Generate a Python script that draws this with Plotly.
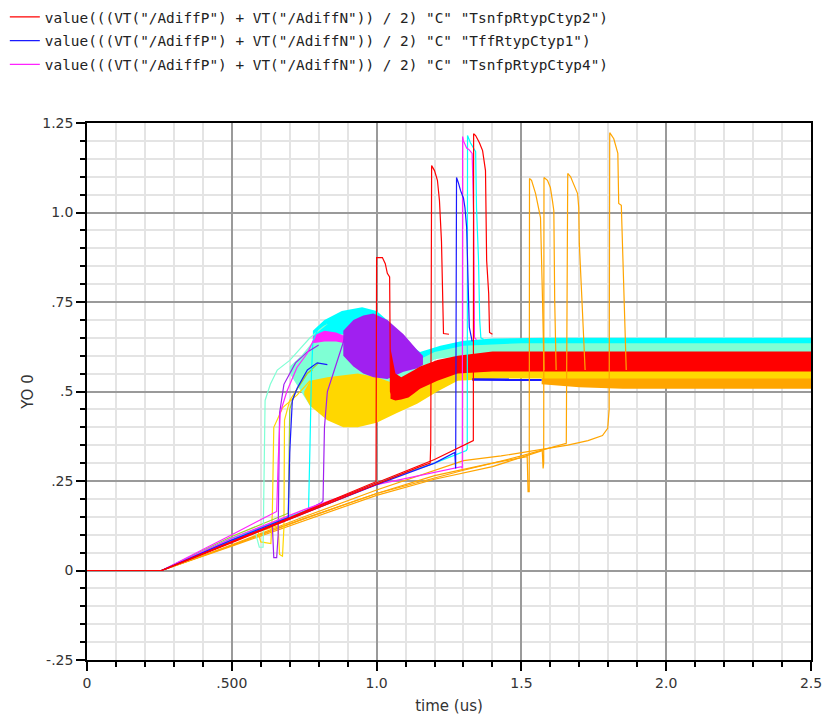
import plotly.graph_objects as go

# ---------------- legend / series names ----------------
name_red = 'value(((VT("/AdiffP") + VT("/AdiffN")) / 2) "C" "TsnfpRtypCtyp2")'
name_blue = 'value(((VT("/AdiffP") + VT("/AdiffN")) / 2) "C" "TffRtypCtyp1")'
name_magenta = 'value(((VT("/AdiffP") + VT("/AdiffN")) / 2) "C" "TsnfpRtypCtyp4")'

# ---------------- axis ticks ----------------
x_tick_vals = [0, 0.5, 1.0, 1.5, 2.0, 2.5]
x_tick_text = ["0", ".500", "1.0", "1.5", "2.0", "2.5"]
y_tick_vals = [-0.25, 0, 0.25, 0.5, 0.75, 1.0, 1.25]
y_tick_text = ["-.25", "0", ".25", ".5", ".75", "1.0", "1.25"]

# ---------------- individual waveforms (time in us, value in V) ----------------
red_1_t = [0, 0.258, 0.5, 0.75, 0.998, 1.0, 1.02, 1.03, 1.037, 1.045, 1.048, 1.06]
red_1_v = [0, 0, 0.08, 0.165, 0.248, 0.874, 0.874, 0.857, 0.83, 0.82, 0.50, 0.478]
red_2_t = [0, 0.258, 0.5, 0.75, 1.0, 1.15, 1.185, 1.187, 1.19, 1.20, 1.21, 1.217, 1.224, 1.228, 1.231, 1.25]
red_2_v = [0, 0, 0.078, 0.16, 0.243, 0.29, 0.30, 0.355, 1.131, 1.117, 1.09, 1.034, 0.92, 0.69, 0.662, 0.66]
red_3_t = [0, 0.258, 0.5, 0.75, 1.0, 1.2, 1.33, 1.334, 1.335, 1.342, 1.355, 1.366, 1.376, 1.38, 1.387, 1.39, 1.40]
red_3_v = [0, 0, 0.08, 0.163, 0.245, 0.31, 0.36, 0.363, 1.22, 1.215, 1.195, 1.173, 1.117, 0.866, 0.774, 0.665, 0.66]

blue_1_t = [0, 0.258, 0.5, 0.695, 0.70, 0.709, 0.726, 0.761, 0.795, 0.83]
blue_1_v = [0, 0, 0.085, 0.148, 0.33, 0.475, 0.51, 0.56, 0.58, 0.575]
blue_2_t = [0, 0.258, 0.5, 0.75, 1.0, 1.2, 1.27, 1.273, 1.276, 1.282, 1.29, 1.30, 1.305, 1.311, 1.316, 1.32, 1.33]
blue_2_v = [0, 0, 0.08, 0.16, 0.24, 0.30, 0.33, 0.285, 1.098, 1.084, 1.061, 1.04, 1.014, 0.958, 0.80, 0.68, 0.64]

magenta_1_t = [0, 0.258, 0.5, 0.655, 0.66, 0.667, 0.69, 0.725, 0.76, 0.78, 0.82, 0.88]
magenta_1_v = [0, 0, 0.1, 0.165, 0.30, 0.44, 0.50, 0.567, 0.606, 0.64, 0.66, 0.65]
magenta_2_t = [0, 0.258, 0.5, 0.75, 1.0, 1.2, 1.293, 1.296, 1.297, 1.30, 1.311, 1.32, 1.33, 1.335, 1.338, 1.345]
magenta_2_v = [0, 0, 0.09, 0.17, 0.24, 0.275, 0.29, 0.285, 1.212, 1.20, 1.18, 1.175, 1.165, 0.997, 0.65, 0.645]

cyan_1_t = [0, 0.258, 0.5, 0.765, 0.77, 0.775, 0.78, 0.80, 0.83, 0.87]
cyan_1_v = [0, 0, 0.09, 0.17, 0.35, 0.55, 0.64, 0.68, 0.69, 0.70]
cyan_2_t = [0, 0.258, 0.5, 0.75, 1.0, 1.2, 1.31, 1.313, 1.314, 1.324, 1.335, 1.342, 1.345, 1.352, 1.356, 1.36, 1.37]
cyan_2_v = [0, 0, 0.085, 0.165, 0.245, 0.30, 0.335, 0.34, 1.215, 1.195, 1.18, 1.17, 1.014, 0.866, 0.70, 0.65, 0.645]

aqua_1_t = [0, 0.258, 0.5, 0.58, 0.595, 0.608, 0.612, 0.615, 0.633, 0.657, 0.70, 0.77, 0.83]
aqua_1_v = [0, 0, 0.09, 0.11, 0.065, 0.065, 0.30, 0.475, 0.52, 0.56, 0.587, 0.65, 0.69]

purple_1_t = [0, 0.258, 0.5, 0.64, 0.645, 0.655, 0.66, 0.665, 0.68, 0.72, 0.76, 0.80]
purple_1_v = [0, 0, 0.085, 0.125, 0.036, 0.036, 0.10, 0.44, 0.52, 0.58, 0.61, 0.63]
purple_2_t = [0, 0.258, 0.5, 0.75, 0.81, 0.815, 0.82, 0.83, 0.87, 0.89]
purple_2_v = [0, 0, 0.08, 0.165, 0.19, 0.195, 0.40, 0.50, 0.60, 0.65]

gold_1_t = [0, 0.258, 0.5, 0.66, 0.665, 0.675, 0.68, 0.682, 0.70, 0.76, 0.78]
gold_1_v = [0, 0, 0.085, 0.125, 0.045, 0.04, 0.12, 0.42, 0.475, 0.55, 0.56]
gold_2_t = [0, 0.258, 0.5, 0.59, 0.60, 0.635, 0.64, 0.645, 0.676, 0.725, 0.77]
gold_2_v = [0, 0, 0.085, 0.11, 0.08, 0.075, 0.16, 0.40, 0.455, 0.49, 0.53]

green_1_t = [0, 0.258, 0.5, 0.695, 0.70, 0.72, 0.76, 0.80]
green_1_v = [0, 0, 0.095, 0.16, 0.45, 0.50, 0.55, 0.58]

orange_1_t = [0, 0.258, 0.5, 0.75, 1.0, 1.2, 1.4, 1.52, 1.523, 1.527, 1.528, 1.535, 1.549, 1.56, 1.566, 1.573, 1.578]
orange_1_v = [0, 0, 0.07, 0.145, 0.215, 0.265, 0.30, 0.318, 0.22, 0.22, 1.095, 1.09, 1.053, 1.014, 0.986, 0.754, 0.56]
orange_2_t = [0, 0.258, 0.5, 0.75, 1.0, 1.2, 1.4, 1.572, 1.575, 1.577, 1.578, 1.59, 1.60, 1.607, 1.612, 1.615, 1.62]
orange_2_v = [0, 0, 0.068, 0.14, 0.21, 0.255, 0.29, 0.335, 0.285, 0.30, 1.098, 1.09, 1.07, 1.034, 1.005, 0.754, 0.56]
orange_3_t = [0, 0.258, 0.5, 0.75, 1.0, 1.3, 1.5, 1.655, 1.66, 1.67, 1.68, 1.694, 1.698, 1.70, 1.708, 1.715, 1.72]
orange_3_v = [0, 0, 0.07, 0.145, 0.215, 0.28, 0.32, 0.355, 1.109, 1.10, 1.08, 1.053, 1.014, 0.913, 0.774, 0.66, 0.56]
orange_4_t = [0, 0.258, 0.5, 0.75, 1.0, 1.3, 1.43, 1.54, 1.66, 1.73, 1.78, 1.798, 1.803, 1.805, 1.819,
              1.833, 1.836, 1.845, 1.85, 1.857, 1.862]
orange_4_v = [0, 0, 0.072, 0.15, 0.225, 0.307, 0.32, 0.335, 0.35, 0.363, 0.377, 0.397, 0.45, 1.223, 1.206,
              1.165, 1.025, 1.02, 0.866, 0.70, 0.56]

# ---------------- ringing envelopes (upper / lower bound of the dense oscillation) ----------------
cyan_band_t = [0.78, 0.82, 0.88, 0.95, 1.0, 1.05, 1.10, 1.15, 1.22, 1.30, 1.40, 1.60, 2.50]
cyan_band_hi = [0.67, 0.70, 0.725, 0.735, 0.725, 0.69, 0.64, 0.61, 0.628, 0.642, 0.648, 0.65, 0.65]
cyan_band_lo = [0.55, 0.60, 0.62, 0.62, 0.60, 0.58, 0.57, 0.57, 0.60, 0.615, 0.62, 0.62, 0.62]

aqua_band_t = [0.70, 0.74, 0.77, 0.80, 0.85, 0.90, 0.95, 1.00, 1.05, 1.10, 1.15, 1.20, 1.30, 1.50, 2.50]
aqua_band_hi = [0.57, 0.60, 0.63, 0.65, 0.66, 0.66, 0.65, 0.64, 0.62, 0.585, 0.59, 0.61, 0.628, 0.635, 0.635]
aqua_band_lo = [0.55, 0.50, 0.46, 0.45, 0.46, 0.47, 0.48, 0.49, 0.50, 0.53, 0.56, 0.59, 0.60, 0.605, 0.605]

magenta_band_t = [0.78, 0.82, 0.86, 0.89]
magenta_band_hi = [0.655, 0.67, 0.665, 0.655]
magenta_band_lo = [0.635, 0.64, 0.64, 0.635]

orange_band_t = [1.57, 1.70, 1.85, 2.50]
orange_band_hi = [0.555, 0.56, 0.56, 0.56]
orange_band_lo = [0.52, 0.512, 0.508, 0.508]

gold_band_t = [0.75, 0.77, 0.83, 0.885, 0.935, 1.0, 1.07, 1.14, 1.21, 1.28, 1.43, 2.50]
gold_band_hi = [0.50, 0.53, 0.54, 0.545, 0.55, 0.54, 0.52, 0.52, 0.55, 0.57, 0.575, 0.578]
gold_band_lo = [0.49, 0.46, 0.42, 0.40, 0.40, 0.413, 0.44, 0.466, 0.50, 0.53, 0.536, 0.536]

purple_band_t = [0.885, 0.92, 0.954, 0.989, 1.037, 1.093, 1.141, 1.16]
purple_band_hi = [0.67, 0.70, 0.712, 0.718, 0.70, 0.66, 0.615, 0.60]
purple_band_lo = [0.60, 0.57, 0.55, 0.54, 0.535, 0.555, 0.565, 0.575]

red_band_t = [1.048, 1.065, 1.085, 1.11, 1.13, 1.15, 1.18, 1.21, 1.28, 1.40, 2.50]
red_band_hi = [0.62, 0.55, 0.54, 0.55, 0.56, 0.57, 0.578, 0.588, 0.60, 0.612, 0.612]
red_band_lo = [0.48, 0.475, 0.478, 0.483, 0.495, 0.508, 0.52, 0.53, 0.55, 0.556, 0.556]

blue_band_t = [1.33, 1.45, 1.57]
blue_band_hi = [0.537, 0.536, 0.536]
blue_band_lo = [0.530, 0.529, 0.529]

# ---------------- colours ----------------
RED = "#ff0000"
BLUE = "#1a1aff"
MAGENTA = "#ff22ff"
CYAN = "#00ffff"
AQUA = "#7fffd4"
PURPLE = "#a020f0"
GOLD = "#ffd700"
ORANGE = "#ffa500"
GREEN = "#9acd32"

fig = go.Figure()


def band(t, hi, lo, color):
    fig.add_trace(go.Scatter(
        x=list(t) + list(t)[::-1], y=list(hi) + list(lo)[::-1],
        mode="lines", fill="toself", fillcolor=color,
        line=dict(width=0, color=color), hoverinfo="skip", showlegend=False))


def wave(t, v, color, name=None, rank=None):
    fig.add_trace(go.Scatter(
        x=t, y=v, mode="lines", line=dict(color=color, width=1.2),
        name=name, showlegend=name is not None,
        legendgroup=name if name is not None else None,
        legendrank=rank if rank is not None else 1000))


# oscillation envelopes
band(cyan_band_t, cyan_band_hi, cyan_band_lo, CYAN)
band(aqua_band_t, aqua_band_hi, aqua_band_lo, AQUA)
band(magenta_band_t, magenta_band_hi, magenta_band_lo, MAGENTA)
band(orange_band_t, orange_band_hi, orange_band_lo, ORANGE)
band(gold_band_t, gold_band_hi, gold_band_lo, GOLD)
band(purple_band_t, purple_band_hi, purple_band_lo, PURPLE)
band(red_band_t, red_band_hi, red_band_lo, RED)
band(blue_band_t, blue_band_hi, blue_band_lo, BLUE)

# start-up / ramp waveforms
wave(orange_1_t, orange_1_v, ORANGE)
wave(orange_2_t, orange_2_v, ORANGE)
wave(orange_3_t, orange_3_v, ORANGE)
wave(orange_4_t, orange_4_v, ORANGE)
wave(gold_1_t, gold_1_v, GOLD)
wave(gold_2_t, gold_2_v, GOLD)
wave(green_1_t, green_1_v, GREEN)
wave(aqua_1_t, aqua_1_v, AQUA)
wave(cyan_1_t, cyan_1_v, CYAN)
wave(cyan_2_t, cyan_2_v, CYAN)
wave(purple_1_t, purple_1_v, PURPLE)
wave(purple_2_t, purple_2_v, PURPLE)
wave(magenta_1_t, magenta_1_v, MAGENTA, name_magenta, 3)
wave(magenta_2_t, magenta_2_v, MAGENTA)
wave(blue_1_t, blue_1_v, BLUE, name_blue, 2)
wave(blue_2_t, blue_2_v, BLUE)
wave(red_2_t, red_2_v, RED)
wave(red_3_t, red_3_v, RED)
wave(red_1_t, red_1_v, RED, name_red, 1)

FONT = "DejaVu Sans"
axis_common = dict(
    showline=True, linecolor="black", linewidth=1.5, mirror=True,
    ticks="outside", ticklen=9, tickcolor="black", tickwidth=1.5,
    showgrid=True, gridcolor="#9a9a9a", gridwidth=1.5,
    zeroline=False, automargin=False,
    tickfont=dict(family=FONT, size=14, color="#333333"),
    tickmode="array",
)

fig.update_layout(
    width=829, height=719,
    margin=dict(l=87, r=18, t=123, b=59, autoexpand=False),
    paper_bgcolor="white", plot_bgcolor="white",
    font=dict(family=FONT, color="#333333"),
    showlegend=True,
    legend=dict(
        x=-0.1135, y=1.227, xanchor="left", yanchor="top",
        font=dict(family="DejaVu Sans Mono", size=14.4, color="#222222"),
        bgcolor="rgba(0,0,0,0)", traceorder="grouped", tracegroupgap=2,
    ),
    xaxis=dict(
        range=[0, 2.5], tickvals=x_tick_vals, ticktext=x_tick_text,
        minor=dict(tickmode="linear", tick0=0, dtick=0.1, ticks="outside", ticklen=5,
                   tickcolor="black", showgrid=True, gridcolor="#e4e4e4", gridwidth=1.5),
        title=dict(text="time (us)", font=dict(family=FONT, size=15, color="#333333"), standoff=11),
        **axis_common,
    ),
    yaxis=dict(
        range=[-0.25, 1.25], tickvals=y_tick_vals, ticktext=y_tick_text,
        minor=dict(tickmode="linear", tick0=0, dtick=0.05, ticks="outside", ticklen=5,
                   tickcolor="black", showgrid=True, gridcolor="#e4e4e4", gridwidth=1.5),
        title=dict(text="YO 0", font=dict(family=FONT, size=15, color="#333333"), standoff=5),
        **axis_common,
    ),
)

fig.write_html("out.html")
